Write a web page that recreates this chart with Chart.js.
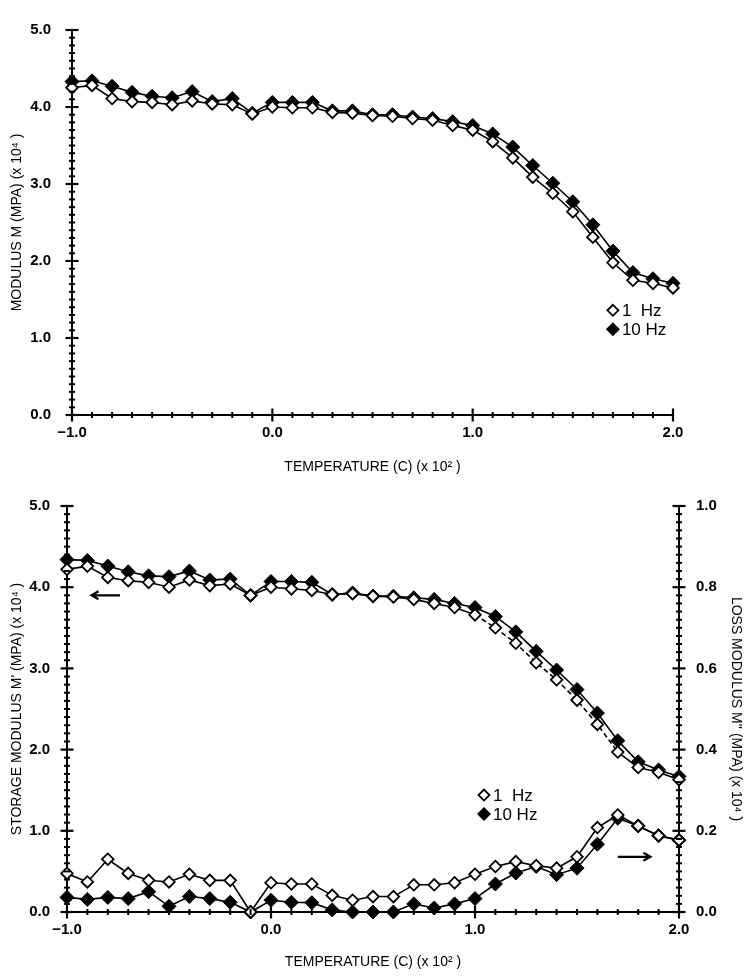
<!DOCTYPE html>
<html>
<head>
<meta charset="utf-8">
<script src="https://cdn.jsdelivr.net/npm/chart.js@4.4.1/dist/chart.umd.min.js"></script>
<style>
  html, body { margin: 0; padding: 0; background: #fff; }
  #wrap { position: relative; width: 744px; height: 978px; }
  #top { position: absolute; left: 0; top: 0; }
  #bottom { position: absolute; left: 0; top: 480px; }
</style>
</head>
<body>
<div id="wrap">
  <canvas id="top" width="744" height="480"></canvas>
  <canvas id="bottom" width="744" height="498"></canvas>
</div>
<script>
// temperature (C) x 10^2
const temps = [-1.0, -0.9, -0.8, -0.7, -0.6, -0.5, -0.4, -0.3, -0.2, -0.1,
  0.0, 0.1, 0.2, 0.3, 0.4, 0.5, 0.6, 0.7, 0.8, 0.9,
  1.0, 1.1, 1.2, 1.3, 1.4, 1.5, 1.6, 1.7, 1.8, 1.9, 2.0];

// top panel: modulus M (MPa x 10^4)
const modulus1Hz = [4.25, 4.28, 4.11, 4.07, 4.06, 4.03, 4.08, 4.04, 4.03, 3.91,
  4.00, 3.99, 3.99, 3.93, 3.92, 3.89, 3.88, 3.85, 3.83, 3.76,
  3.70, 3.55, 3.34, 3.09, 2.88, 2.64, 2.31, 1.98, 1.75, 1.71, 1.65];
const modulus10Hz = [4.33, 4.34, 4.27, 4.19, 4.14, 4.12, 4.20, 4.07, 4.11, 3.92,
  4.06, 4.06, 4.06, 3.95, 3.95, 3.90, 3.90, 3.87, 3.85, 3.81,
  3.76, 3.65, 3.48, 3.24, 3.01, 2.77, 2.47, 2.13, 1.85, 1.77, 1.71];

// bottom panel: storage modulus M' (left axis)
const storage1Hz = [4.22, 4.26, 4.12, 4.08, 4.06, 4.00, 4.09, 4.02, 4.04, 3.90,
  4.00, 3.98, 3.96, 3.91, 3.92, 3.89, 3.88, 3.85, 3.80, 3.75,
  3.66, 3.50, 3.31, 3.07, 2.86, 2.61, 2.31, 1.97, 1.78, 1.72, 1.63];
const storage10Hz = [4.34, 4.33, 4.26, 4.19, 4.14, 4.13, 4.20, 4.09, 4.10, 3.90,
  4.07, 4.07, 4.06, 3.91, 3.93, 3.89, 3.89, 3.87, 3.85, 3.80,
  3.75, 3.64, 3.45, 3.21, 2.98, 2.74, 2.45, 2.11, 1.85, 1.75, 1.67];

// bottom panel: loss modulus M'' (right axis)
const loss1Hz = [0.095, 0.074, 0.130, 0.095, 0.078, 0.074, 0.093, 0.078, 0.078, 0.0,
  0.072, 0.069, 0.069, 0.041, 0.029, 0.038, 0.038, 0.067, 0.067, 0.072,
  0.093, 0.112, 0.124, 0.114, 0.108, 0.136, 0.208, 0.239, 0.212, 0.188, 0.177];
const loss10Hz = [0.036, 0.031, 0.036, 0.033, 0.050, 0.014, 0.038, 0.033, 0.024, 0.0,
  0.029, 0.024, 0.023, 0.005, 0.0, 0.0, 0.0, 0.020, 0.010, 0.020,
  0.033, 0.069, 0.096, 0.112, 0.092, 0.108, 0.167, 0.231, 0.212, 0.188, 0.177];

const seriesLabels = ["1  Hz", "10 Hz"];

Chart.defaults.font.family = "'Liberation Sans', Arial, sans-serif";
Chart.defaults.color = "#000";

const pts = (ys) => temps.map((t, i) => ({ x: t, y: ys[i] }));
const fmt = (v) => (v < 0 ? "\u2212" : "") + Math.abs(v).toFixed(1);

//open diamond series
function openSet(label, data, axis) {
  return {
    label, data, yAxisID: axis,
    borderColor: "#000", borderWidth: 1.6,
    pointStyle: "rectRot", pointRadius: 5.8,
    pointBackgroundColor: "#fff", pointBorderColor: "#000", pointBorderWidth: 1.8,
    clip: false, order: 1,
  };
}
//filled diamond series
function filledSet(label, data, axis) {
  return {
    label, data, yAxisID: axis,
    borderColor: "#000", borderWidth: 1.6,
    pointStyle: "rectRot", pointRadius: 7,
    pointBackgroundColor: "#000", pointBorderColor: "#000", pointBorderWidth: 1,
    clip: false, order: 2,
  };
}

//ticks that cross the axis line, like the plotter output
const crossTicks = {
  id: "crossTicks",
  afterDatasetsDraw(chart, args, opts) {
    const ctx = chart.ctx;
    ctx.save();
    ctx.strokeStyle = "#000";
    for (const t of opts.axes) {
      const s = chart.scales[t.id];
      for (let i = 0; i <= t.count; i++) {
        const v = s.min + (s.max - s.min) * i / t.count;
        const major = i % t.every === 0;
        const len = major ? 6.5 : 3;
        ctx.lineWidth = major ? 2.2 : 2;
        const p = s.getPixelForValue(v);
        ctx.beginPath();
        if (s.isHorizontal()) {
          ctx.moveTo(p, s.top - len);
          ctx.lineTo(p, s.top + len);
        } else {
          const x = s.position === "right" ? s.left : s.right;
          ctx.moveTo(x - len, p);
          ctx.lineTo(x + len, p);
        }
        ctx.stroke();
      }
    }
    ctx.restore();
  },
};

//legend and arrows, placed in data units
const notes = {
  id: "notes",
  afterDraw(chart, args, opts) {
    const ctx = chart.ctx;
    const sx = chart.scales.x, sy = chart.scales.y;
    ctx.save();
    ctx.fillStyle = "#000";
    ctx.strokeStyle = "#000";
    ctx.font = "17px 'Liberation Sans Narrow', 'Liberation Sans', Arial, sans-serif";
    ctx.textBaseline = "middle";
    opts.legend.forEach((row, i) => {
      const x = sx.getPixelForValue(opts.legendAt[0]);
      const y = sy.getPixelForValue(opts.legendAt[1]) + i * 19;
      const r = i === 0 ? 5.5 : 7;
      ctx.beginPath();
      ctx.moveTo(x, y - r); ctx.lineTo(x + r, y); ctx.lineTo(x, y + r); ctx.lineTo(x - r, y); ctx.closePath();
      if (i === 0) { ctx.fillStyle = "#fff"; ctx.fill(); ctx.lineWidth = 1.8; ctx.stroke(); ctx.fillStyle = "#000"; }
      else ctx.fill();
      ctx.fillText(row, x + 9, y + 1);
    });
    (opts.arrows || []).forEach((a) => {
      const x0 = sx.getPixelForValue(a[0]), x1 = sx.getPixelForValue(a[1]);
      const y = sy.getPixelForValue(a[2]);
      const dir = x1 > x0 ? 1 : -1;
      ctx.lineWidth = 2.2;
      ctx.beginPath();
      ctx.moveTo(x0, y); ctx.lineTo(x1, y);
      ctx.moveTo(x1 - dir * 7, y - 4); ctx.lineTo(x1, y); ctx.lineTo(x1 - dir * 7, y + 4);
      ctx.stroke();
    });
    ctx.restore();
  },
};

const tickFont = { size: 15, weight: "bold" };
const titleFont = { size: 14 };

new Chart(document.getElementById("top"), {
  type: "line",
  plugins: [crossTicks, notes],
  data: {
    datasets: [
      openSet(seriesLabels[0], pts(modulus1Hz), "y"),
      filledSet(seriesLabels[1], pts(modulus10Hz), "y"),
    ],
  },
  options: {
    responsive: false,
    animation: false,
    layout: { padding: { top: 15, right: 71, left: 0, bottom: 0 } },
    plugins: {
      legend: { display: false },
      tooltip: { enabled: false },
      crossTicks: { axes: [{ id: "x", count: 30, every: 10 }, { id: "y", count: 50, every: 10 }] },
      notes: { legend: seriesLabels, legendAt: [1.70, 1.36] },
    },
    scales: {
      x: {
        type: "linear", min: -1, max: 2,
        grid: { display: false, drawTicks: false },
        border: { display: true, color: "#000", width: 2 },
        ticks: { stepSize: 1, padding: 9, font: tickFont, callback: fmt },
        title: { display: true, text: "TEMPERATURE (C) (x 10\u00B2 )", font: titleFont, padding: { bottom: 4 } },
        afterFit: (s) => { s.height = 65; },
      },
      y: {
        min: 0, max: 5,
        grid: { display: false, drawTicks: false },
        border: { display: true, color: "#000", width: 2 },
        ticks: { stepSize: 1, padding: 21, font: tickFont, callback: fmt },
        title: { display: true, text: "MODULUS M (MPA) (x 10\u2074 )", font: titleFont, padding: { top: 9 } },
        afterFit: (s) => { s.width = 72; },
      },
    },
  },
});

new Chart(document.getElementById("bottom"), {
  type: "line",
  plugins: [crossTicks, notes],
  data: {
    datasets: [
      Object.assign(openSet(seriesLabels[0], pts(storage1Hz), "y"), {
        segment: { borderDash: (c) => (c.p0.parsed.x > 0.95 && c.p1.parsed.x < 1.75 ? [5, 3] : undefined) },
      }),
      filledSet(seriesLabels[1], pts(storage10Hz), "y"),
      openSet(seriesLabels[0], pts(loss1Hz), "y2"),
      filledSet(seriesLabels[1], pts(loss10Hz), "y2"),
    ],
  },
  options: {
    responsive: false,
    animation: false,
    layout: { padding: { top: 14, right: 0, left: 0, bottom: 0 } },
    plugins: {
      legend: { display: false },
      tooltip: { enabled: false },
      crossTicks: { axes: [{ id: "x", count: 30, every: 10 }, { id: "y", count: 50, every: 10 }, { id: "y2", count: 50, every: 10 }] },
      notes: { legend: seriesLabels, legendAt: [1.044, 1.44], arrows: [[-0.74, -0.88, 3.9], [1.70, 1.86, 0.68]] },
    },
    scales: {
      x: {
        type: "linear", min: -1, max: 2,
        grid: { display: false, drawTicks: false },
        border: { display: true, color: "#000", width: 2 },
        ticks: { stepSize: 1, padding: 9, font: tickFont, callback: fmt },
        title: { display: true, text: "TEMPERATURE (C) (x 10\u00B2 )", font: titleFont, padding: { bottom: 7 } },
        afterFit: (s) => { s.height = 66; },
      },
      y: {
        position: "left", min: 0, max: 5,
        grid: { display: false, drawTicks: false },
        border: { display: true, color: "#000", width: 2 },
        ticks: { stepSize: 1, padding: 17, font: tickFont, callback: fmt },
        title: { display: true, text: "STORAGE MODULUS M' (MPA) (x 10\u2074 )", font: titleFont, padding: { top: 9 } },
        afterFit: (s) => { s.width = 67; },
      },
      y2: {
        position: "right", min: 0, max: 1,
        grid: { display: false, drawTicks: false },
        border: { display: true, color: "#000", width: 2 },
        ticks: { stepSize: 0.2, padding: 17, font: tickFont, callback: (v) => v.toFixed(1) },
        title: { display: true, text: "LOSS MODULUS M'' (MPA) (x 10\u2074 )", font: titleFont, padding: { top: 0 } },
        afterFit: (s) => { s.width = 65; },
      },
    },
  },
});
</script>
</body>
</html>
